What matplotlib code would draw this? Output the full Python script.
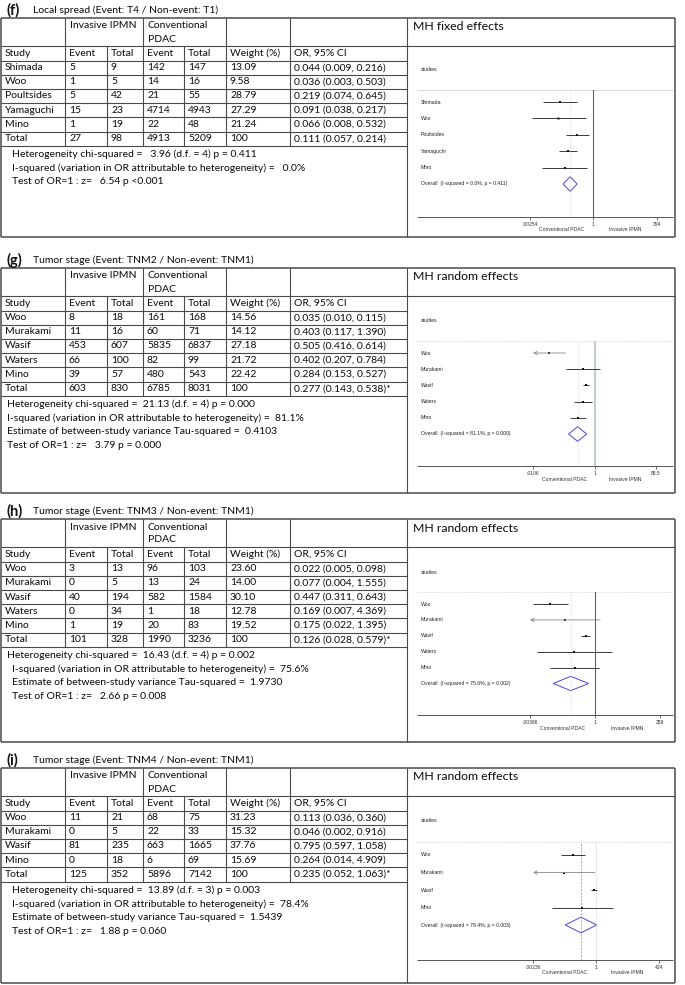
import matplotlib
matplotlib.use("Agg")
import matplotlib.pyplot as plt
from matplotlib.transforms import blended_transform_factory as blend
from matplotlib.ticker import NullLocator

# ---- panel (f) local spread, fixed effects
F_STUDIES = ["Shimada", "Woo", "Poultsides", "Yamaguchi", "Mino"]
F_IPMN_EVENT = [5, 1, 5, 15, 1]
F_IPMN_TOTAL = [9, 5, 42, 23, 19]
F_PDAC_EVENT = [142, 14, 21, 4714, 22]
F_PDAC_TOTAL = [147, 16, 55, 4943, 48]
F_WEIGHT = [13.09, 9.58, 28.79, 27.29, 21.24]
F_OR = [0.044, 0.036, 0.219, 0.091, 0.066]
F_LO = [0.009, 0.003, 0.074, 0.038, 0.008]
F_HI = [0.216, 0.503, 0.645, 0.217, 0.532]
F_TOTAL = [27, 98, 4913, 5209]
F_POOLED = [0.111, 0.057, 0.214]
F_STATS = ["Heterogeneity chi-squared =   3.96 (d.f. = 4) p = 0.411",
           "I-squared (variation in OR attributable to heterogeneity) =   0.0%",
           "Test of OR=1 : z=   6.54 p <0.001"]
F_TICKS = [0.00254, 1, 394]
F_TICKLABELS = [".00254", "1", "394"]

# ---- panel (g) TNM2
G_STUDIES = ["Woo", "Murakami", "Wasif", "Waters", "Mino"]
G_IPMN_EVENT = [8, 11, 453, 66, 39]
G_IPMN_TOTAL = [18, 16, 607, 100, 57]
G_PDAC_EVENT = [161, 60, 5835, 82, 480]
G_PDAC_TOTAL = [168, 71, 6837, 99, 543]
G_WEIGHT = [14.56, 14.12, 27.18, 21.72, 22.42]
G_OR = [0.035, 0.403, 0.505, 0.402, 0.284]
G_LO = [0.010, 0.117, 0.416, 0.207, 0.153]
G_HI = [0.115, 1.390, 0.614, 0.784, 0.527]
G_TOTAL = [603, 830, 6785, 8031]
G_POOLED = [0.277, 0.143, 0.538]
G_STATS = ["Heterogeneity chi-squared =  21.13 (d.f. = 4) p = 0.000",
           "I-squared (variation in OR attributable to heterogeneity) =  81.1%",
           "Estimate of between-study variance Tau-squared =  0.4103",
           "Test of OR=1 : z=   3.79 p = 0.000"]
G_TICKS = [0.0106, 1, 85.5]
G_TICKLABELS = [".0106", "1", "85.5"]

# ---- panel (h) TNM3
H_STUDIES = ["Woo", "Murakami", "Wasif", "Waters", "Mino"]
H_IPMN_EVENT = [3, 0, 40, 0, 1]
H_IPMN_TOTAL = [13, 5, 194, 34, 19]
H_PDAC_EVENT = [96, 13, 582, 1, 20]
H_PDAC_TOTAL = [103, 24, 1584, 18, 83]
H_WEIGHT = [23.60, 14.00, 30.10, 12.78, 19.52]
H_OR = [0.022, 0.077, 0.447, 0.169, 0.175]
H_LO = [0.005, 0.0037, 0.311, 0.007, 0.022]
H_HI = [0.098, 1.555, 0.643, 4.369, 1.395]
H_TOTAL = [101, 328, 1990, 3236]
H_POOLED = [0.126, 0.028, 0.579]
H_STATS = ["Heterogeneity chi-squared =  16.43 (d.f. = 4) p = 0.002",
           "I-squared (variation in OR attributable to heterogeneity) =  75.6%",
           "Estimate of between-study variance Tau-squared =  1.9730",
           "Test of OR=1 : z=   2.66 p = 0.008"]
H_TICKS = [0.00386, 1, 259]
H_TICKLABELS = [".00386", "1", "259"]

# ---- panel (i) TNM4
I_STUDIES = ["Woo", "Murakami", "Wasif", "Mino"]
I_IPMN_EVENT = [11, 0, 81, 0]
I_IPMN_TOTAL = [21, 5, 235, 18]
I_PDAC_EVENT = [68, 22, 663, 6]
I_PDAC_TOTAL = [75, 33, 1665, 69]
I_WEIGHT = [31.23, 15.32, 37.76, 15.69]
I_OR = [0.113, 0.046, 0.795, 0.264]
I_LO = [0.036, 0.002, 0.597, 0.014]
I_HI = [0.360, 0.916, 1.058, 4.909]
I_TOTAL = [125, 352, 5896, 7142]
I_POOLED = [0.235, 0.052, 1.063]
I_STATS = ["Heterogeneity chi-squared =  13.89 (d.f. = 3) p = 0.003",
           "I-squared (variation in OR attributable to heterogeneity) =  78.4%",
           "Estimate of between-study variance Tau-squared =  1.5439",
           "Test of OR=1 : z=   1.88 p = 0.060"]
I_TICKS = [0.00236, 1, 424]
I_TICKLABELS = [".00236", "1", "424"]

W, H = 685, 985
TFONT = "Lato"
SFONT = "Liberation Sans"
LINE = "#4a4a4a"
TSIZE = 7.5

# column edges of the table (px)
COLS = [1, 65, 107, 143, 184, 226, 290, 407]
RIGHT = 675

# null-line / pooled-line looks per panel
NULL_STYLE = {
    "(f)": dict(color="#606060", lw=0.8, ls="-"),
    "(g)": dict(color="#c4cccc", lw=1.6, ls="-"),
    "(h)": dict(color="#606060", lw=0.8, ls="-"),
    "(i)": dict(color="#c8c8c8", lw=0.6, ls=(0, (1, 1))),
}
POOL_STYLE = {
    "(f)": dict(color="#e6d4d8", lw=0.5, ls=(0, (1, 1))),
    "(g)": dict(color="#e6d4d8", lw=0.5, ls=(0, (1, 1))),
    "(h)": dict(color="#d8d8d8", lw=0.5, ls=(0, (1, 1))),
    "(i)": dict(color="#e06070", lw=0.5, ls=(0, (3, 2))),
}

fig = plt.figure(figsize=(W / 100, H / 100), dpi=100)
base = fig.add_axes([0, 0, 1, 1])
base.set_xlim(0, W)
base.set_ylim(H, 0)
base.axis("off")


def hline(y, x0, x1, **kw):
    base.plot([x0, x1], [y, y], color=kw.get("color", LINE), lw=kw.get("lw", 0.8),
              ls=kw.get("ls", "-"), solid_capstyle="butt")


def vline(x, y0, y1, **kw):
    base.plot([x, x], [y0, y1], color=kw.get("color", LINE), lw=kw.get("lw", 0.8),
              solid_capstyle="butt")


def txt(x, y, s, size=TSIZE, **kw):
    base.text(x, y, s, fontsize=size, family=kw.pop("family", TFONT), va="center",
              ha=kw.pop("ha", "left"), color=kw.pop("color", "#0a0a0a"), **kw)


def draw_panel(top, bottom, tag, title, method, studies, ie, it, pe, pt, wt,
               ors, los, his, total, pooled, stats, stats_x, ticks, ticklabels,
               first_y, step, tick_px, star):
    n = len(studies)
    hb = top + 28
    sb = hb + 14.5
    rh = 14.2
    tb = sb + rh * (n + 1)

    # title
    base.text(7, top - 8, tag, fontsize=10.5, fontweight="bold", family=TFONT,
              va="center", color="#111111")
    txt(33, top - 7.5, title)

    # frame and grid
    hline(top, COLS[0], RIGHT, lw=1.1)
    hline(bottom, COLS[0], RIGHT, lw=1.1)
    vline(COLS[0], top, bottom, lw=1.1)
    vline(RIGHT, top, bottom, lw=1.1)
    vline(COLS[-1], top, bottom)
    hline(hb, COLS[0], RIGHT)
    for k in range(n + 2):
        hline(sb + rh * k, COLS[0], COLS[-1])
    for x in [COLS[1], COLS[3], COLS[5], COLS[6]]:
        vline(x, top, tb)
    for x in [COLS[2], COLS[4]]:
        vline(x, hb, tb)

    # header text
    txt(COLS[1] + 5, top + 8, "Invasive IPMN")
    txt(COLS[3] + 5, top + 8, "Conventional")
    txt(COLS[3] + 5, top + 21, "PDAC")
    txt(COLS[-1] + 6, top + 9, method, size=8.8)
    heads = ["Study", "Event", "Total", "Event", "Total", "Weight (%)", "OR, 95% CI"]
    yc = hb + 7.5
    for x, h in zip(COLS[:-1], heads):
        txt(x + 4, yc, h)

    rows = []
    for k in range(n):
        rows.append([studies[k], str(ie[k]), str(it[k]), str(pe[k]), str(pt[k]),
                     f"{wt[k]:.2f}", f"{ors[k]:.3f} ({los[k]:.3f}, {his[k]:.3f})"])
    rows.append(["Total", str(total[0]), str(total[1]), str(total[2]), str(total[3]),
                 "100", f"{pooled[0]:.3f} ({pooled[1]:.3f}, {pooled[2]:.3f})" + star])
    for k, r in enumerate(rows):
        y = sb + rh * (k + 0.5)
        for x, s in zip(COLS[:-1], r):
            txt(x + 4, y, s)

    for k, s in enumerate(stats):
        txt(stats_x[k], tb + 9 + 13.6 * k, s)

    # ---- forest plot
    top_line = first_y - 0.75 * step
    axis_y = first_y + (n + 2) * step
    x0, x1 = tick_px
    fa = fig.add_axes([x0 / W, 1 - axis_y / H, (x1 - x0) / W, (axis_y - top_line) / H])
    fa.set_xscale("log")
    fa.set_xlim(ticks[0], ticks[-1])
    fa.set_ylim(n + 2, -0.75)
    fa.patch.set_visible(False)
    for sp in fa.spines.values():
        sp.set_visible(False)
    fa.set_yticks([])
    fa.xaxis.set_minor_locator(NullLocator())
    fa.set_xticks(ticks)
    fa.set_xticklabels(ticklabels, family=SFONT)
    fa.tick_params(axis="x", labelsize=3.6, length=2.2, width=0.5, pad=1.2,
                   colors="#333333")

    hline(top_line, 417, 673, color="#d4d4d4", lw=0.6,
          ls="-" if tag == "(f)" else (0, (1, 1)))
    hline(axis_y, 417, 673, color="#555555", lw=0.7)

    fa.axvline(pooled[0], **POOL_STYLE[tag])
    fa.axvline(1, **NULL_STYLE[tag])

    lab = blend(base.transData, fa.transData)
    fa.text(421, -2, "studies", transform=lab, fontsize=3.7, family=SFONT,
            va="center", color="#222222")
    for k in range(n):
        fa.text(421, k, studies[k], transform=lab, fontsize=3.7, family=SFONT,
                va="center", color="#222222")
        if los[k] < ticks[0]:
            fa.annotate("", xy=(ticks[0], k), xytext=(his[k], k),
                        arrowprops=dict(arrowstyle="->", color="#7f8c8a", lw=0.6,
                                        mutation_scale=6, shrinkA=0, shrinkB=0))
        else:
            fa.plot([los[k], his[k]], [k, k], color="#3a3a3a", lw=0.7,
                    solid_capstyle="butt")
        fa.plot(ors[k], k, marker="s", ms=1.3 + wt[k] / 80, color="#111111", mew=0)
    isq = stats[1].split("=")[-1].strip()
    pval = stats[0].split("p =")[-1].strip()
    fa.text(421, n, "Overall  (I-squared = %s, p = %s)" % (isq, pval),
            transform=lab, fontsize=3.7, family=SFONT, va="center", color="#222222")
    fa.fill([pooled[1], pooled[0], pooled[2], pooled[0]], [n, n - 0.45, n, n + 0.45],
            fill=False, edgecolor="#4848d8", lw=0.7)

    sub = blend(fa.transData, base.transData)
    fa.text(ticks[0] ** 0.5, axis_y + 13, "Conventional PDAC", transform=sub,
            fontsize=3.6, family=SFONT, ha="center", va="center", color="#333333")
    fa.text(ticks[-1] ** 0.5, axis_y + 13, "Invasive IPMN", transform=sub,
            fontsize=3.6, family=SFONT, ha="center", va="center", color="#333333")


draw_panel(18, 237, "(f)", "Local spread (Event: T4 / Non-event: T1)", "MH fixed effects",
           F_STUDIES, F_IPMN_EVENT, F_IPMN_TOTAL, F_PDAC_EVENT, F_PDAC_TOTAL, F_WEIGHT,
           F_OR, F_LO, F_HI, F_TOTAL, F_POOLED, F_STATS, [12, 12, 12],
           F_TICKS, F_TICKLABELS, 102, 16.4, (530, 657), "")
draw_panel(268, 493, "(g)", "Tumor stage (Event: TNM2 / Non-event: TNM1)", "MH random effects",
           G_STUDIES, G_IPMN_EVENT, G_IPMN_TOTAL, G_PDAC_EVENT, G_PDAC_TOTAL, G_WEIGHT,
           G_OR, G_LO, G_HI, G_TOTAL, G_POOLED, G_STATS, [7, 7, 7, 7],
           G_TICKS, G_TICKLABELS, 353, 16.2, (533, 656), "*")
draw_panel(519, 742, "(h)", "Tumor stage (Event: TNM3 / Non-event: TNM1)", "MH random effects",
           H_STUDIES, H_IPMN_EVENT, H_IPMN_TOTAL, H_PDAC_EVENT, H_PDAC_TOTAL, H_WEIGHT,
           H_OR, H_LO, H_HI, H_TOTAL, H_POOLED, H_STATS, [7, 12, 12, 12],
           H_TICKS, H_TICKLABELS, 604, 15.9, (530, 660), "*")
draw_panel(768, 983, "(i)", "Tumor stage (Event: TNM4 / Non-event: TNM1)", "MH random effects",
           I_STUDIES, I_IPMN_EVENT, I_IPMN_TOTAL, I_PDAC_EVENT, I_PDAC_TOTAL, I_WEIGHT,
           I_OR, I_LO, I_HI, I_TOTAL, I_POOLED, I_STATS, [12, 12, 12, 12],
           I_TICKS, I_TICKLABELS, 855, 17.5, (533, 659), "*")

fig.savefig("out.png", dpi=100, facecolor="white")
